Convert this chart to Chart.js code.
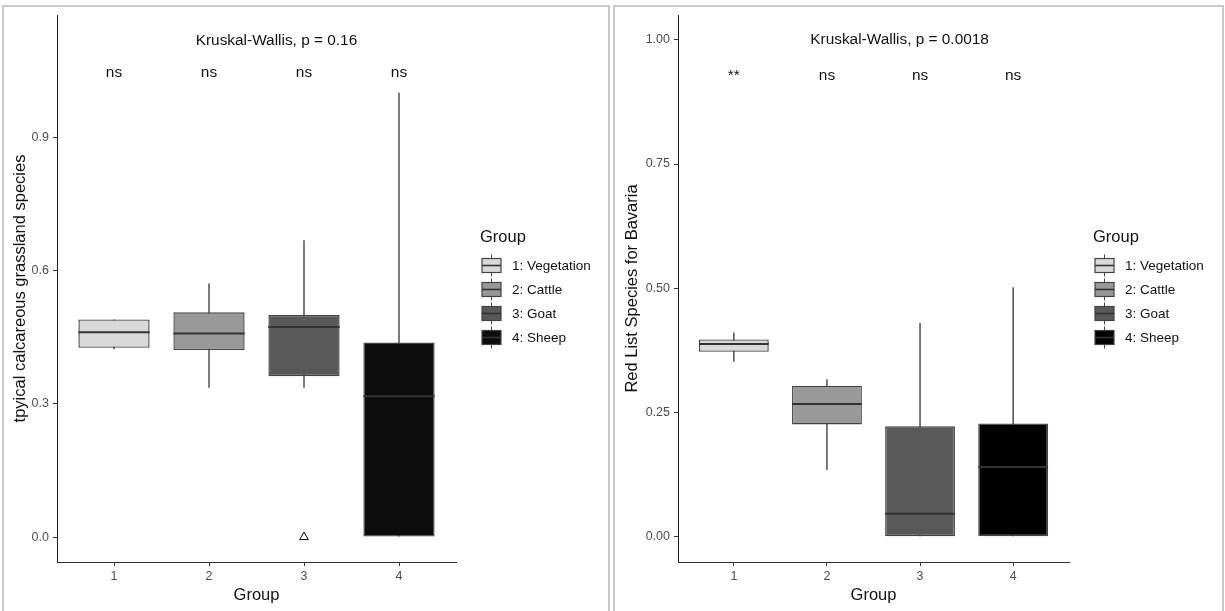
<!DOCTYPE html>
<html>
<head>
<meta charset="utf-8">
<script src="https://cdn.jsdelivr.net/npm/chart.js@4"></script>
<style>
  html, body { margin:0; padding:0; background:#fff; width:1225px; height:611px; overflow:hidden; }
  .panel { position:absolute; box-sizing:border-box; border:2px solid #c9c9c9; border-bottom:none; background:transparent; }
  canvas { position:absolute; top:0; }
</style>
</head>
<body>
<div class="panel" style="left:2px; top:5px; width:608px; height:620px;"></div>
<div class="panel" style="left:613px; top:5px; width:611px; height:620px;"></div>
<canvas id="left" width="609" height="611" style="left:0px;"></canvas>
<canvas id="right" width="613" height="611" style="left:612px;"></canvas>
<script>
// ---------- data ----------
const groups = [1, 2, 3, 4];
const groupNames = ['1: Vegetation', '2: Cattle', '3: Goat', '4: Sheep'];
const xTickValues = [1, 2, 3, 4];

// left panel: typical calcareous grassland species
const calcMin    = [0.423, 0.336, 0.336, 0.000];
const calcQ1     = [0.426, 0.421, 0.362, 0.000];
const calcMedian = [0.461, 0.458, 0.473, 0.317];
const calcQ3     = [0.490, 0.506, 0.500, 0.438];
const calcMax    = [0.490, 0.571, 0.668, 1.000];
const calcOutlierGroups = [3];
const calcOutlierValues = [0.0];
const calcTicks = [0.0, 0.3, 0.6, 0.9];
const calcTickLabels = ['0.0', '0.3', '0.6', '0.9'];
const calcSig = ['ns', 'ns', 'ns', 'ns'];
const calcTest = 'Kruskal-Wallis, p = 0.16';

// right panel: Red List species for Bavaria
const redMin    = [0.352, 0.134, 0.000, 0.000];
const redQ1     = [0.372, 0.226, 0.000, 0.000];
const redMedian = [0.388, 0.267, 0.046, 0.140];
const redQ3     = [0.397, 0.304, 0.222, 0.228];
const redMax    = [0.411, 0.317, 0.430, 0.502];
const redOutlierGroups = [];
const redOutlierValues = [];
const redTicks = [0.00, 0.25, 0.50, 0.75, 1.00];
const redTickLabels = ['0.00', '0.25', '0.50', '0.75', '1.00'];
const redSig = ['**', 'ns', 'ns', 'ns'];
const redTest = 'Kruskal-Wallis, p = 0.0018';

// ---------- styles ----------
const FONT = '"Liberation Sans", Arial, Helvetica, sans-serif';

const ggExtras = {
  id: 'ggExtras',
  afterDatasetsDraw(chart, args, o) {
    const { ctx, chartArea, scales: { x, y } } = chart;
    ctx.save();
    ctx.fillStyle = '#111';
    ctx.textAlign = 'center';
    ctx.textBaseline = 'middle';
    ctx.font = '15.4px ' + FONT;
    ctx.fillText(o.test, x.getPixelForValue(o.testX), y.getPixelForValue(o.testY));
    o.sig.forEach((s, i) => {
      ctx.fillText(s, x.getPixelForValue(o.groups[i]), y.getPixelForValue(o.sigY));
    });
    // legend
    const lx = chartArea.right + 24;
    const cy = (chartArea.top + chartArea.bottom) / 2;
    const titleY = cy - 51;
    ctx.textAlign = 'left';
    ctx.font = '16.5px ' + FONT;
    ctx.fillText('Group', lx, titleY);
    ctx.font = '13.5px ' + FONT;
    o.names.forEach((name, i) => {
      const iy = titleY + 28 + 24 * i;
      const kx = lx + 2, kw = 19;
      ctx.strokeStyle = '#444';
      ctx.lineWidth = 1;
      ctx.beginPath();
      ctx.moveTo(kx + kw / 2, iy - 11); ctx.lineTo(kx + kw / 2, iy - 7);
      ctx.moveTo(kx + kw / 2, iy + 7); ctx.lineTo(kx + kw / 2, iy + 11);
      ctx.stroke();
      ctx.fillStyle = o.fills[i];
      ctx.fillRect(kx, iy - 7, kw, 14);
      ctx.lineWidth = 1.2;
      ctx.strokeRect(kx, iy - 7, kw, 14);
      ctx.strokeStyle = '#333';
      ctx.lineWidth = 1.6;
      ctx.beginPath();
      ctx.moveTo(kx, iy); ctx.lineTo(kx + kw, iy);
      ctx.stroke();
      ctx.fillStyle = '#111';
      ctx.fillText(name, lx + 32, iy + 1);
    });
    ctx.restore();
  }
};

function buildChart(id, d) {
  const halfBox = (c) => {
    const xs = c.chart.scales.x;
    return Math.abs(xs.getPixelForValue(1.375) - xs.getPixelForValue(1));
  };
  const datasets = [
    { // whiskers
      type: 'bar', grouped: false, order: 3,
      data: groups.map((g, i) => ({ x: g, y: [d.min[i], d.max[i]] })),
      backgroundColor: '#222', borderWidth: 0, maxBarThickness: 1.2,
      categoryPercentage: 0.75, barPercentage: 1
    },
    { // boxes
      type: 'bar', grouped: false, order: 2,
      data: groups.map((g, i) => ({ x: g, y: [d.q1[i], d.q3[i]] })),
      backgroundColor: d.fills, borderColor: '#444', borderWidth: 1.4,
      borderSkipped: false, categoryPercentage: 0.75, barPercentage: 1
    },
    { // medians
      type: 'scatter', order: 1,
      data: groups.map((g, i) => ({ x: g, y: d.median[i] })),
      pointStyle: 'line', pointRadius: halfBox, pointHoverRadius: halfBox,
      borderColor: '#333', borderWidth: 2
    },
    { // outliers
      type: 'scatter', order: 0,
      data: d.outG.map((g, i) => ({ x: g, y: d.outV[i] })),
      pointStyle: 'triangle', pointRadius: 5,
      backgroundColor: '#fff', borderColor: '#000', borderWidth: 1
    }
  ];
  return new Chart(document.getElementById(id), {
    type: 'bar',
    data: { datasets },
    plugins: [ggExtras],
    options: {
      responsive: false, animation: false, devicePixelRatio: 1,
      layout: { padding: { left: 0, top: 15, right: d.padRight, bottom: 0 } },
      plugins: {
        legend: { display: false }, tooltip: { enabled: false },
        ggExtras: {
          test: d.test, testX: d.testX, testY: d.testY,
          sig: d.sig, sigY: d.sigY, groups: groups,
          names: groupNames, fills: d.fills
        }
      },
      scales: {
        x: {
          type: 'linear', min: 0.4, max: 4.6, offset: false,
          afterBuildTicks: (s) => { s.ticks = xTickValues.map(v => ({ value: v })); },
          afterFit: (s) => { s.height = 49; },
          ticks: { color: '#4d4d4d', font: { family: FONT, size: 12.5 }, padding: 3,
                   callback: (v) => String(v) },
          grid: { offset: false, drawOnChartArea: false, drawTicks: true, tickLength: 4, color: '#333', lineWidth: 1 },
          border: { display: true, color: '#333', width: 1 },
          title: { display: true, text: 'Group', color: '#111',
                   font: { family: FONT, size: 16.5 }, padding: { top: 0, bottom: 6 } }
        },
        y: {
          type: 'linear', min: d.yMin, max: d.yMax,
          afterBuildTicks: (s) => { s.ticks = d.ticks.map(v => ({ value: v })); },
          afterFit: (s) => { s.width = d.yWidth; },
          ticks: { color: '#4d4d4d', font: { family: FONT, size: 12.5 }, padding: 4,
                   callback: (v) => d.tickLabels[d.ticks.indexOf(v)] },
          grid: { offset: false, drawOnChartArea: false, drawTicks: true, tickLength: 4, color: '#333', lineWidth: 1 },
          border: { display: true, color: '#222', width: 1 },
          title: { display: true, text: d.yTitle, color: '#111',
                   font: { family: FONT, size: 16.5 }, padding: { top: 11, bottom: 0 } }
        }
      }
    }
  });
}

buildChart('left', {
  min: calcMin, q1: calcQ1, median: calcMedian, q3: calcQ3, max: calcMax,
  outG: calcOutlierGroups, outV: calcOutlierValues,
  ticks: calcTicks, tickLabels: calcTickLabels, sig: calcSig, test: calcTest,
  yTitle: 'tpyical calcareous grassland species',
  fills: ['#d9d9d9', '#999999', '#595959', '#0d0d0d'],
  yMin: -0.056, yMax: 1.175, testX: 2.71, testY: 1.118, sigY: 1.046,
  yWidth: 57, padRight: 153
});

buildChart('right', {
  min: redMin, q1: redQ1, median: redMedian, q3: redQ3, max: redMax,
  outG: redOutlierGroups, outV: redOutlierValues,
  ticks: redTicks, tickLabels: redTickLabels, sig: redSig, test: redTest,
  yTitle: 'Red List Species for Bavaria',
  fills: ['#d9d9d9', '#999999', '#595959', '#000000'],
  yMin: -0.051, yMax: 1.05, testX: 2.78, testY: 1.0, sigY: 0.927,
  yWidth: 66, padRight: 156
});
</script>
</body>
</html>
